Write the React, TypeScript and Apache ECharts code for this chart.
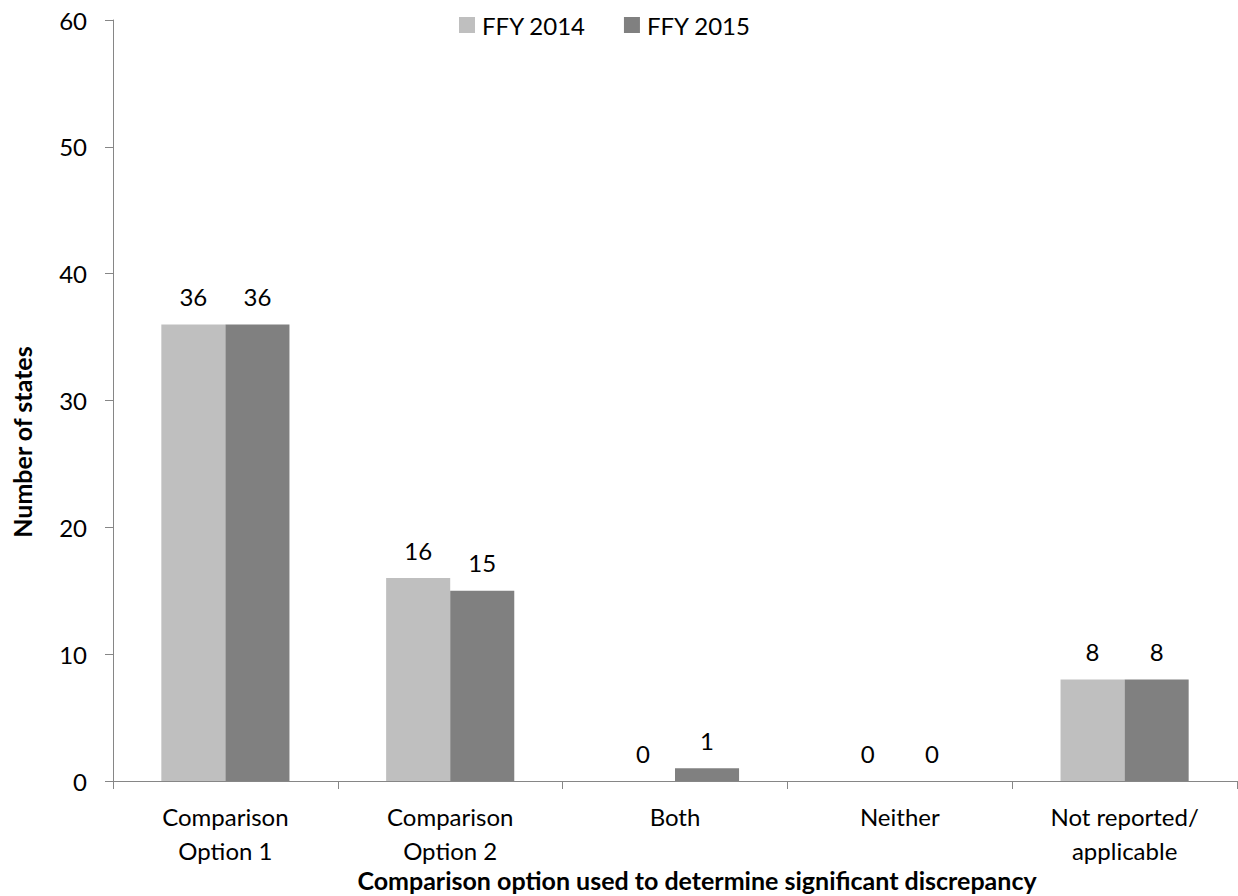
import React, { useEffect, useRef } from "react";
import * as echarts from "echarts";

const categories = ["Comparison\nOption 1", "Comparison\nOption 2", "Both", "Neither", "Not reported/\napplicable"];
const seriesNames = ["FFY 2014", "FFY 2015"];
const ffy2014 = [36, 16, 0, 0, 8];
const ffy2015 = [36, 15, 1, 0, 8];
const yTicks = { min: 0, max: 60, interval: 10 };
const xTitle = "Comparison option used to determine significant discrepancy";
const yTitle = "Number of states";

const FONT = "Lato, 'Open Sans', sans-serif";

export default function App() {
  const ref = useRef<HTMLDivElement>(null);
  useEffect(() => {
    if (!ref.current) return;
    const chart = echarts.init(ref.current, undefined, { renderer: "svg" });
    const label = {
      show: true,
      position: "top",
      distance: 16,
      color: "#000",
      fontSize: 24,
      fontFamily: FONT,
    };
    chart.setOption({
      animation: false,
      backgroundColor: "#fff",
      textStyle: { fontFamily: FONT },
      legend: {
        top: 8,
        left: 454,
        itemWidth: 16,
        itemHeight: 16,
        itemGap: 38,
        icon: "rect",
        textStyle: { fontSize: 24, color: "#000", fontFamily: FONT, padding: [0, 0, 0, 2] },
        data: seriesNames,
      },
      grid: { left: 113, top: 20, right: 1, bottom: 115, containLabel: false },
      graphic: [
        {
          type: "text",
          x: 697,
          y: 880,
          style: {
            text: xTitle,
            fontSize: 25,
            fontWeight: "bold",
            fill: "#000",
            fontFamily: FONT,
            align: "center",
            verticalAlign: "middle",
          },
        },
        {
          type: "text",
          x: 22,
          y: 442,
          rotation: Math.PI / 2,
          style: {
            text: yTitle,
            fontSize: 25,
            fontWeight: "bold",
            fill: "#000",
            fontFamily: FONT,
            align: "center",
            verticalAlign: "middle",
          },
        },
      ],
      xAxis: {
        type: "category",
        data: categories,
        axisLine: { show: true, lineStyle: { color: "#868686", width: 1 } },
        axisTick: { show: true, length: 8, lineStyle: { color: "#868686" } },
        axisLabel: { color: "#000", fontSize: 24, lineHeight: 34, margin: 18, fontFamily: FONT, interval: 0 },
      },
      yAxis: {
        type: "value",
        min: yTicks.min,
        max: yTicks.max,
        interval: yTicks.interval,
        axisLine: { show: true, lineStyle: { color: "#868686", width: 1 } },
        axisTick: { show: true, length: 8, lineStyle: { color: "#868686" } },
        splitLine: { show: false },
        axisLabel: { color: "#000", fontSize: 24, margin: 26, fontFamily: FONT },
      },
      series: [
        {
          name: seriesNames[0],
          type: "bar",
          data: ffy2014,
          itemStyle: { color: "#BFBFBF" },
          barGap: "0%",
          barCategoryGap: "43%",
          label,
        },
        {
          name: seriesNames[1],
          type: "bar",
          data: ffy2015,
          itemStyle: { color: "#808080" },
          barGap: "0%",
          barCategoryGap: "43%",
          label,
        },
      ],
    });
    return () => chart.dispose();
  }, []);
  return (
    <div
      ref={ref}
      style={{ position: "absolute", left: 0, top: 0, width: 1238, height: 896 }}
    />
  );
}
